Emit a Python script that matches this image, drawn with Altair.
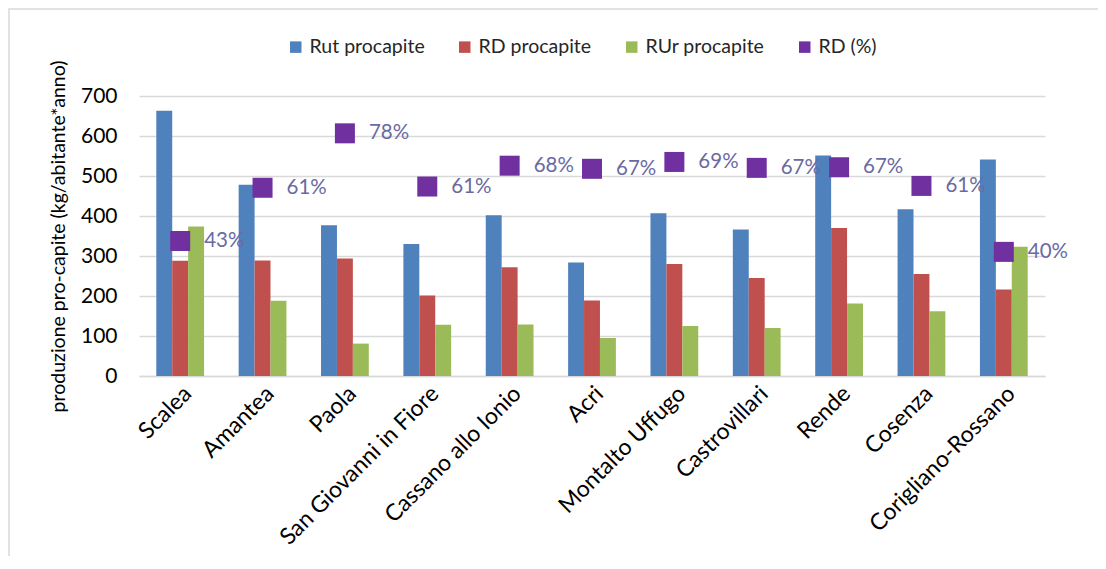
import altair as alt
import pandas as pd

cities = ["Scalea", "Amantea", "Paola", "San Giovanni in Fiore", "Cassano allo Ionio",
          "Acri", "Montalto Uffugo", "Castrovillari", "Rende", "Cosenza", "Corigliano-Rossano"]
rut = [663, 478, 377, 330, 402, 284, 407, 366, 551, 417, 541]
rd = [288, 289, 294, 201, 272, 189, 280, 245, 370, 255, 216]
rur = [374, 188, 81, 128, 129, 95, 125, 120, 181, 162, 323]
rd_pct = [0.434, 0.605, 0.780, 0.609, 0.676, 0.666, 0.688, 0.669, 0.671, 0.611, 0.399]

series = ["Rut procapite", "RD procapite", "RUr procapite"]
pct_series = "RD (%)"
colors = ["#4F81BD", "#C0504D", "#9BBB59", "#7030A0"]
y_ticks = [0, 100, 200, 300, 400, 500, 600, 700]

bars_df = pd.DataFrame({
    "comune": cities * 3,
    "serie": [s for s in series for _ in cities],
    "valore": rut + rd + rur,
})
pct_df = pd.DataFrame({"comune": cities, "serie": [pct_series] * len(cities), "pct": rd_pct})

W, H = 906, 280
PL, PT, PR, PB = 131, 88, 53, 180

x_enc = alt.X(
    "comune:N", sort=cities,
    scale=alt.Scale(paddingInner=0.42, paddingOuter=0.21),
    axis=alt.Axis(title=None, labelAngle=-45, labelFontSize=23, labelPadding=6,
                  ticks=False, domainColor="#d9d9d9", domainWidth=1.5, labelColor="#000000",
                  labelLimit=400),
)

bars = alt.Chart(bars_df).mark_bar().encode(
    x=x_enc,
    xOffset=alt.XOffset("serie:N", sort=series, scale=alt.Scale(domain=series)),
    y=alt.Y("valore:Q", scale=alt.Scale(domain=[0, 700]),
            axis=alt.Axis(values=y_ticks, title="produzione pro-capite (kg/abitante*anno)",
                          domain=False, ticks=False, labelPadding=22, labelFontSize=21,
                          labelColor="#000000", titleFontSize=19.5, titleFontWeight="normal",
                          titleColor="#000000", titlePadding=12,
                          gridColor="#d9d9d9", gridWidth=1.5)),
    color=alt.Color("serie:N",
                    scale=alt.Scale(domain=series + [pct_series], range=colors),
                    legend=alt.Legend(title=None, orient="none", legendX=147, legendY=-59,
                                      direction="horizontal", symbolType="square",
                                      symbolSize=132, symbolStrokeWidth=0, labelFontSize=19.5,
                                      labelColor="#262626", columnPadding=30, labelOffset=4,
                                      padding=0)),
)

points = alt.Chart(pct_df).mark_point(shape="square", filled=True, size=400, opacity=1).encode(
    x=alt.X("comune:N", sort=cities),
    y=alt.Y("pct:Q", scale=alt.Scale(domain=[0, 0.9]), axis=None),
    color=alt.Color("serie:N"),
)

labels = alt.Chart(pct_df).mark_text(align="left", baseline="middle", dx=24, fontSize=20.5,
                                     color="#6a6aa3").encode(
    x=alt.X("comune:N", sort=cities),
    y=alt.Y("pct:Q", scale=alt.Scale(domain=[0, 0.9]), axis=None),
    text=alt.Text("pct:Q", format=".0%"),
)

frame = alt.Chart(pd.DataFrame({"k": [0]})).mark_rect(
    fillOpacity=0, stroke="#d9d9d9", strokeWidth=1.5).encode(
    x=alt.value(-PL + 1), x2=alt.value(W + PR + 20),
    y=alt.value(-PT + 1), y2=alt.value(H + PB + 20),
)

chart = alt.layer(frame, bars, points, labels).resolve_scale(y="independent").properties(
    width=W, height=H,
    autosize=alt.AutoSizeParams(type="none"),
    padding={"left": PL, "top": PT, "right": PR, "bottom": PB},
).configure(font="Lato").configure_view(stroke=None)

chart.save("out.html", embed_options={"renderer": "svg", "actions": False})
